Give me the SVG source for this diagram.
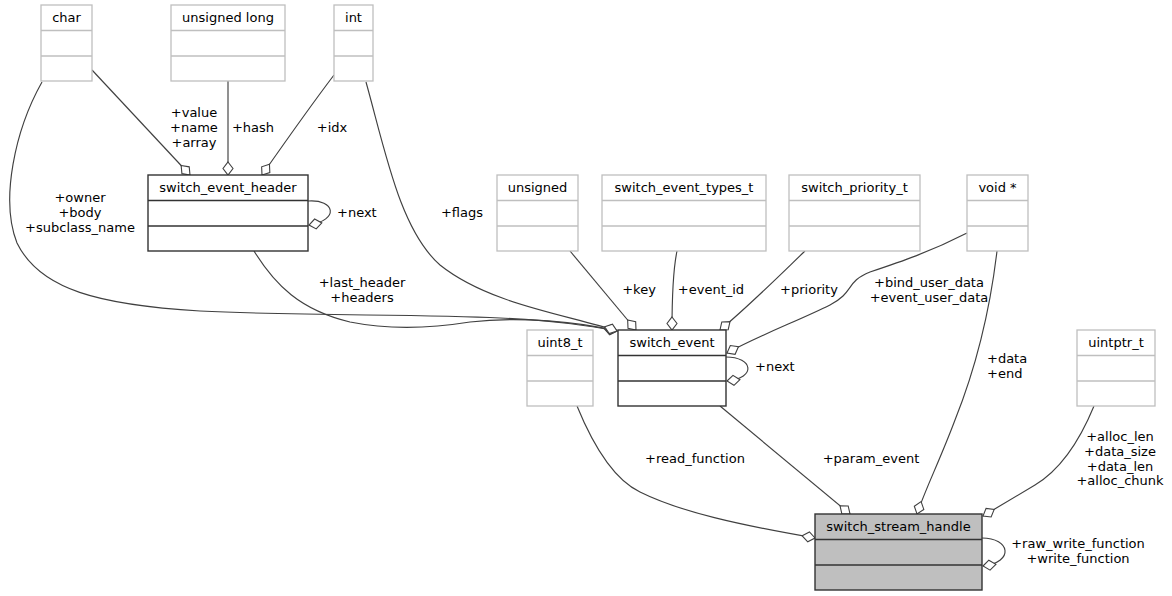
<svg xmlns="http://www.w3.org/2000/svg" width="1172" height="596" viewBox="0 0 1172 596">
<defs>
<marker id="dia" markerUnits="userSpaceOnUse" markerWidth="16" markerHeight="14" viewBox="-1 -7 16 14" refX="13" refY="0" orient="auto">
<path d="M0,0 L6.5,-5 L13,0 L6.5,5 Z" fill="#fff" stroke="#404040" stroke-width="1.1"/>
</marker>
<style>
text{font-family:"DejaVu Sans",Verdana,sans-serif;font-size:13px;fill:#000}
.c{text-anchor:middle}
.g rect,.g line{fill:#fff;stroke:#bfbfbf;stroke-width:1.3}
.b rect,.b line{fill:#fff;stroke:#333;stroke-width:1.4}
.m rect{fill:#bfbfbf;stroke:#333;stroke-width:1.4}
.m line{stroke:#333;stroke-width:1.4}
.e path{fill:none;stroke:#404040;stroke-width:1.15;marker-end:url(#dia)}
</style>
</defs>
<rect width="1172" height="596" fill="#fff"/>
<g id="connectors" class="e">
<path d="M92,70 L190,175"/>
<path d="M228,81 L228,175"/>
<path d="M334,75 C315,100 290,135 262,175"/>
<path d="M308,201 C335,199 340,220 309,225"/>
<path d="M42,82 C15,130 0,200 17,243 C40,290 100,305 200,311 C300,316 420,314 500,318 C560,321 590,326 617,331"/>
<path d="M254,251 C275,285 300,310 350,322 C380,328 420,330 470,322 C520,316 580,322 617,331"/>
<path d="M366,82 C385,150 400,230 440,265 C490,305 570,315 617,331"/>
<path d="M570,251 L636,330"/>
<path d="M677,251 C673,270 672,300 672,330"/>
<path d="M805,251 C780,275 750,305 720,330"/>
<path d="M967,233 C930,252 900,262 870,272 C845,282 855,292 830,305 C800,320 760,335 727,353"/>
<path d="M726,357 C753,357 757,378 727,381"/>
<path d="M577,406 C595,450 615,480 640,492 C680,512 740,525 815,538"/>
<path d="M720,406 L850,514"/>
<path d="M997,251 C990,310 975,370 955,420 C940,460 925,490 917,514"/>
<path d="M1094,406 C1080,440 1060,470 1035,485 C1015,497 1000,506 983,516"/>
<path d="M982,538 C1010,538 1015,562 983,566"/>
</g>
<g id="labels">
<text class="c" x="194" y="117">+value</text>
<text class="c" x="194" y="132">+name</text>
<text class="c" x="194" y="147">+array</text>
<text class="c" x="253" y="132">+hash</text>
<text class="c" x="332" y="132">+idx</text>
<text class="c" x="80" y="202">+owner</text>
<text class="c" x="80" y="217">+body</text>
<text class="c" x="80" y="232">+subclass_name</text>
<text x="337" y="217">+next</text>
<text class="c" x="362" y="287">+last_header</text>
<text class="c" x="362" y="302">+headers</text>
<text class="c" x="462" y="217">+flags</text>
<text class="c" x="639" y="294">+key</text>
<text class="c" x="711" y="294">+event_id</text>
<text class="c" x="809" y="294">+priority</text>
<text class="c" x="929" y="287">+bind_user_data</text>
<text class="c" x="929" y="302">+event_user_data</text>
<text x="755" y="371">+next</text>
<text x="987" y="363">+data</text>
<text x="987" y="378">+end</text>
<text class="c" x="695" y="463">+read_function</text>
<text class="c" x="871" y="463">+param_event</text>
<text class="c" x="1120" y="441">+alloc_len</text>
<text class="c" x="1120" y="456">+data_size</text>
<text class="c" x="1120" y="471">+data_len</text>
<text class="c" x="1120" y="485">+alloc_chunk</text>
<text class="c" x="1078" y="548">+raw_write_function</text>
<text class="c" x="1078" y="563">+write_function</text>
</g>
<g id="char" class="g"><rect x="41" y="5" width="51" height="76"/><line x1="41" y1="30.5" x2="92" y2="30.5"/><line x1="41" y1="56" x2="92" y2="56"/><text class="c" x="66.5" y="22">char</text></g>
<g id="unsigned_long" class="g"><rect x="171" y="5" width="114" height="76"/><line x1="171" y1="30.5" x2="285" y2="30.5"/><line x1="171" y1="56" x2="285" y2="56"/><text class="c" x="228" y="22">unsigned long</text></g>
<g id="int" class="g"><rect x="334" y="5" width="39" height="76"/><line x1="334" y1="30.5" x2="373" y2="30.5"/><line x1="334" y1="56" x2="373" y2="56"/><text class="c" x="353.5" y="22">int</text></g>
<g id="switch_event_header" class="b"><rect x="148" y="175" width="160" height="76"/><line x1="148" y1="200.5" x2="308" y2="200.5"/><line x1="148" y1="226" x2="308" y2="226"/><text class="c" x="228" y="192">switch_event_header</text></g>
<g id="unsigned" class="g"><rect x="497" y="175" width="81" height="76"/><line x1="497" y1="200.5" x2="578" y2="200.5"/><line x1="497" y1="226" x2="578" y2="226"/><text class="c" x="537.5" y="192">unsigned</text></g>
<g id="switch_event_types_t" class="g"><rect x="602" y="175" width="164" height="76"/><line x1="602" y1="200.5" x2="766" y2="200.5"/><line x1="602" y1="226" x2="766" y2="226"/><text class="c" x="684" y="192">switch_event_types_t</text></g>
<g id="switch_priority_t" class="g"><rect x="789" y="175" width="131" height="76"/><line x1="789" y1="200.5" x2="920" y2="200.5"/><line x1="789" y1="226" x2="920" y2="226"/><text class="c" x="854.5" y="192">switch_priority_t</text></g>
<g id="void_ptr" class="g"><rect x="967" y="175" width="61" height="76"/><line x1="967" y1="200.5" x2="1028" y2="200.5"/><line x1="967" y1="226" x2="1028" y2="226"/><text class="c" x="997.5" y="192">void *</text></g>
<g id="uint8_t" class="g"><rect x="527" y="330" width="66" height="76"/><line x1="527" y1="355.5" x2="593" y2="355.5"/><line x1="527" y1="381" x2="593" y2="381"/><text class="c" x="560" y="347">uint8_t</text></g>
<g id="switch_event" class="b"><rect x="618" y="330" width="108" height="76"/><line x1="618" y1="355.5" x2="726" y2="355.5"/><line x1="618" y1="381" x2="726" y2="381"/><text class="c" x="672" y="347">switch_event</text></g>
<g id="uintptr_t" class="g"><rect x="1077" y="330" width="78" height="76"/><line x1="1077" y1="355.5" x2="1155" y2="355.5"/><line x1="1077" y1="381" x2="1155" y2="381"/><text class="c" x="1116" y="347">uintptr_t</text></g>
<g id="switch_stream_handle" class="m"><rect x="815" y="514" width="167" height="76"/><line x1="815" y1="539.5" x2="982" y2="539.5"/><line x1="815" y1="565" x2="982" y2="565"/><text class="c" x="898.5" y="531">switch_stream_handle</text></g>
</svg>
